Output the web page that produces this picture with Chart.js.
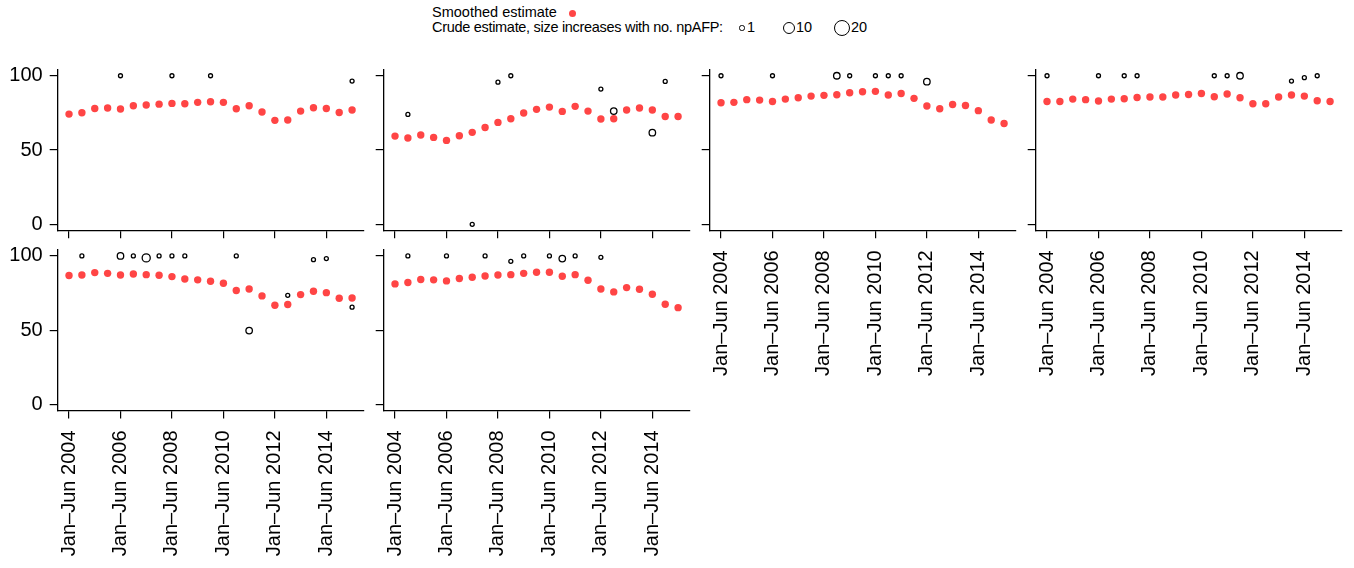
<!DOCTYPE html>
<html>
<head>
<meta charset="utf-8">
<script src="https://cdn.jsdelivr.net/npm/chart.js@4.4.0/dist/chart.umd.min.js"></script>
<style>
    body { margin: 0; background: #fff; width: 1354px; height: 568px; position: relative; overflow: hidden; font-family: "Liberation Sans", Arial, sans-serif; }
    canvas { position: absolute; }
    .legend { position: absolute; font-size: 14.5px; color: #000; white-space: nowrap; line-height: 1; }
    .mark { position: absolute; border-radius: 50%; box-sizing: border-box; }
</style>
</head>
<body>
<div class="legend" style="left:432px; top:5px;">Smoothed estimate</div>
<div class="legend" style="left:432px; top:20px; letter-spacing:-0.3px;">Crude estimate, size increases with no. npAFP:</div>
<div id="legendMarks"></div>

<canvas id="p1" width="370" height="320" style="left:0px; top:62px;"></canvas>
<canvas id="p2" width="370" height="320" style="left:326px; top:62px;"></canvas>
<canvas id="p3" width="370" height="320" style="left:652px; top:62px;"></canvas>
<canvas id="p4" width="370" height="320" style="left:978px; top:62px;"></canvas>
<canvas id="p5" width="370" height="320" style="left:0px; top:242px;"></canvas>
<canvas id="p6" width="370" height="320" style="left:326px; top:242px;"></canvas>

<script>
const periods = [
    'Jan–Jun 2004', 'Jul–Dec 2004', 'Jan–Jun 2005', 'Jul–Dec 2005',
    'Jan–Jun 2006', 'Jul–Dec 2006', 'Jan–Jun 2007', 'Jul–Dec 2007',
    'Jan–Jun 2008', 'Jul–Dec 2008', 'Jan–Jun 2009', 'Jul–Dec 2009',
    'Jan–Jun 2010', 'Jul–Dec 2010', 'Jan–Jun 2011', 'Jul–Dec 2011',
    'Jan–Jun 2012', 'Jul–Dec 2012', 'Jan–Jun 2013', 'Jul–Dec 2013',
    'Jan–Jun 2014', 'Jul–Dec 2014', 'Jan–Jun 2015'
];
const xTickIndexes = [0, 4, 8, 12, 16, 20];
const yTickValues = [0, 50, 100];

const smoothed1 = [74.2, 75.1, 78.0, 78.3, 77.6, 79.8, 80.3, 80.9, 81.4, 81.2, 82.1, 82.5, 82.1, 77.8, 79.8, 75.6, 70.0, 70.2, 76.2, 78.5, 78.0, 75.3, 76.9];
const crude1 = [null, null, null, null, 100, null, null, null, 100, null, null, 100, null, null, null, null, null, null, null, null, null, null, 96.4];
const npafp1 = [null, null, null, null, 1, null, null, null, 1, null, null, 1, null, null, null, null, null, null, null, null, null, null, 1];

const smoothed2 = [59.4, 58.1, 60.1, 58.5, 56.5, 59.6, 61.9, 65.2, 68.6, 71.1, 74.9, 77.4, 78.9, 76.0, 79.4, 76.2, 70.9, 71.1, 76.9, 78.3, 76.9, 72.6, 72.6];
const crude2 = [null, 74.0, null, null, null, null, 0, null, 95.7, 100, null, null, null, null, null, null, 91.0, 76.2, null, null, 61.7, 96.2, null];
const npafp2 = [null, 1, null, null, null, null, 1, null, 1, 1, null, null, null, null, null, null, 1, 3, null, null, 3, 1, null];

const smoothed3 = [81.8, 82.1, 83.9, 83.6, 82.7, 84.3, 85.2, 86.3, 86.8, 87.2, 88.6, 89.2, 89.5, 87.0, 88.1, 84.8, 79.6, 77.8, 80.7, 80.0, 76.5, 70.2, 67.9];
const crude3 = [100, null, null, null, 100, null, null, null, null, 100, 100, null, 100, 100, 100, null, 96.0, null, null, null, null, null, null];
const npafp3 = [1, null, null, null, 1, null, null, null, null, 3, 1, null, 1, 1, 1, null, 3, null, null, null, null, null, null];

const smoothed4 = [82.7, 82.7, 84.3, 83.9, 83.0, 84.3, 84.5, 85.4, 85.7, 85.7, 87.0, 87.4, 88.1, 85.9, 87.7, 85.2, 81.2, 81.2, 85.7, 87.0, 86.3, 83.2, 82.7];
const crude4 = [100, null, null, null, 100, null, 100, 100, null, null, null, null, null, 100, 100, 100, null, null, null, 96.4, 98.7, 100, null];
const npafp4 = [1, null, null, null, 1, null, 1, 1, null, null, null, null, null, 1, 1, 3, null, null, null, 1, 1, 1, null];

const smoothed5 = [86.8, 87.2, 88.8, 88.3, 87.2, 87.9, 87.4, 87.0, 86.1, 84.5, 83.9, 83.0, 81.6, 76.7, 77.8, 73.1, 66.8, 67.3, 74.0, 76.2, 75.3, 71.5, 71.7];
const crude5 = [null, 100, null, null, 100, 100, 98.7, 100, 100, 100, null, null, null, 100, 49.8, null, null, 73.5, null, 97.5, 98.2, null, 65.5];
const npafp5 = [null, 1, null, null, 3, 1, 5, 1, 1, 1, null, null, null, 1, 3, null, null, 1, null, 1, 1, null, 1];

const smoothed6 = [81.2, 82.1, 84.1, 83.9, 83.2, 84.8, 85.7, 86.5, 87.2, 87.4, 88.3, 89.0, 89.0, 86.3, 87.4, 83.6, 77.8, 75.8, 78.7, 77.6, 74.2, 67.5, 65.2];
const crude6 = [null, 100, null, null, 100, null, null, 100, null, 96.4, 100, null, 100, 98.2, 100, null, 99.1, null, null, null, null, null, null];
const npafp6 = [null, 1, null, null, 1, null, null, 1, null, 1, 1, null, 1, 3, 1, null, 1, null, null, null, null, null, null];

const legendSizes = [1, 10, 20];

const RED = '#ff4545';
const FONT = '"Liberation Sans", Arial, sans-serif';

function crudeRadius(n) {
    return 2 * Math.pow(n, 0.44);
}

function makePanel(id, smooth, crude, counts, showY, showX, padTop) {
    const plotH = 160.5;
    const canvas = document.getElementById(id);
    const xAxisH = canvas.height - padTop - plotH;
    const crudePoints = crude
        .map((v, i) => ({ x: i, y: v, n: counts[i] }))
        .filter(p => p.y !== null);

    const axisGrid = { drawOnChartArea: false, drawTicks: true, tickLength: 8, color: '#000', lineWidth: 1.2 };
    const axisBorder = { display: true, color: '#000', width: 1.3 };

    new Chart(canvas, {
        type: 'scatter',
        data: {
            datasets: [{
                label: 'Smoothed estimate',
                data: smooth.map((v, i) => ({ x: i, y: v })),
                pointRadius: 3.7,
                pointBackgroundColor: RED,
                pointBorderWidth: 0
            }, {
                label: 'Crude estimate',
                data: crudePoints,
                pointRadius: c => crudeRadius(c.raw.n),
                pointBackgroundColor: 'rgba(0,0,0,0)',
                pointBorderColor: '#000',
                pointBorderWidth: 1.3
            }]
        },
        options: {
            responsive: false,
            animation: false,
            events: [],
            layout: { autoPadding: false, padding: { top: padTop, right: 6.6, left: 0, bottom: 0 } },
            plugins: { legend: { display: false }, tooltip: { enabled: false } },
            scales: {
                x: {
                    type: 'linear',
                    min: -0.88,
                    max: 22.88,
                    afterBuildTicks: s => { s.ticks = xTickIndexes.map(v => ({ value: v })); },
                    afterFit: s => { s.height = xAxisH; s.paddingLeft = 0; s.paddingRight = 0; },
                    ticks: {
                        display: showX,
                        autoSkip: false,
                        minRotation: 90,
                        maxRotation: 90,
                        padding: 12,
                        color: '#000',
                        font: { family: FONT, size: 20 },
                        callback: v => periods[v]
                    },
                    grid: axisGrid,
                    border: axisBorder
                },
                y: {
                    min: -4,
                    max: 104,
                    afterBuildTicks: s => { s.ticks = yTickValues.map(v => ({ value: v })); },
                    afterFit: s => { s.width = 57.7; s.paddingTop = 0; s.paddingBottom = 0; },
                    ticks: {
                        display: showY,
                        padding: 7,
                        color: '#000',
                        font: { family: FONT, size: 20 },
                        callback: v => v
                    },
                    grid: axisGrid,
                    border: axisBorder
                }
            }
        }
    });
}

makePanel('p1', smoothed1, crude1, npafp1, true, false, 7.8);
makePanel('p2', smoothed2, crude2, npafp2, false, false, 7.8);
makePanel('p3', smoothed3, crude3, npafp3, false, true, 7.8);
makePanel('p4', smoothed4, crude4, npafp4, false, true, 7.8);
makePanel('p5', smoothed5, crude5, npafp5, true, true, 8);
makePanel('p6', smoothed6, crude6, npafp6, false, true, 8);

// legend marks
const marks = document.getElementById('legendMarks');
function addMark(cx, cy, r, fill, border) {
    const d = document.createElement('div');
    d.className = 'mark';
    d.style.left = (cx - r) + 'px';
    d.style.top = (cy - r) + 'px';
    d.style.width = (2 * r) + 'px';
    d.style.height = (2 * r) + 'px';
    if (fill) d.style.background = fill;
    if (border) d.style.border = border;
    marks.appendChild(d);
}
addMark(572.7, 13.3, 3.7, RED, null);
const legendX = [742, 789, 842];
const legendTextX = [747, 796, 851];
legendSizes.forEach((n, i) => {
    const r = crudeRadius(n) + 0.65;
    addMark(legendX[i], 28, r, null, '1.3px solid #000');
    const t = document.createElement('div');
    t.className = 'legend';
    t.style.left = legendTextX[i] + 'px';
    t.style.top = '20px';
    t.textContent = n;
    marks.appendChild(t);
});
</script>
</body>
</html>
